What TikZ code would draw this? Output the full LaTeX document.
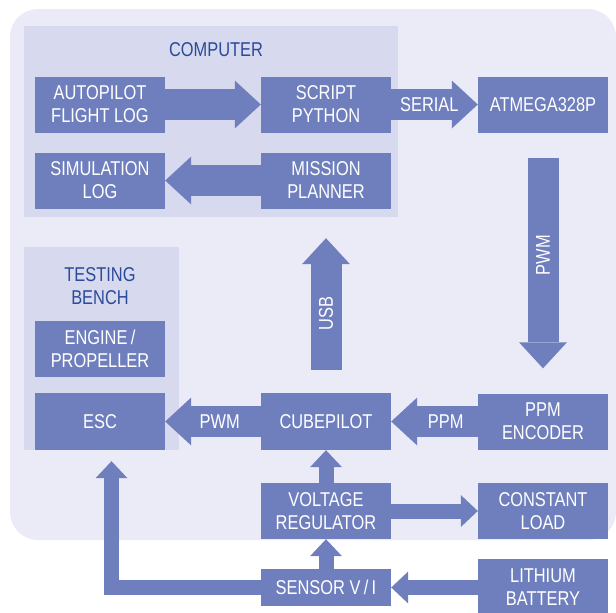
\documentclass[tikz,border=0pt]{standalone}
\usepackage{fontspec}
\setmainfont{Liberation Sans}[FakeStretch=0.82]
\usetikzlibrary{arrows.meta,calc}

\definecolor{bgcol}{HTML}{EBEBF7}
\definecolor{panelcol}{HTML}{D7D9EE}
\definecolor{boxcol}{HTML}{6F7FBE}
\definecolor{titlecol}{HTML}{2A4A9A}

\begin{document}
\begin{tikzpicture}[x=1pt, y=-1pt, font=\fontsize{20}{23}\selectfont,
          block/.style={fill=boxcol, text=white, align=center, minimum
            width=130pt, minimum height=56pt, inner sep=0},
          panel/.style={fill=panelcol, inner sep=0},
          title/.style={text=titlecol, align=center},
          fatarrow/.style={draw=boxcol, line width=31pt,
            -{Triangle[width=48pt,length=26pt,line width=0pt]}},
          slimarrow/.style={draw=boxcol, line width=15pt, line join=miter,
            -{Triangle[width=32pt,length=17pt,line width=0pt]}},
          lbl/.style={text=white, inner sep=0}]
  \useasboundingbox (0,0) rectangle (616,613);
  \fill[bgcol, rounded corners=28pt] (10,9) rectangle (616,540);
  \node[panel, minimum width=374pt, minimum height=191pt] (computer) at (211,121.5) {};
  \node[panel, minimum width=155pt, minimum height=203pt] (bench) at (101.5,348.5) {};
  \node[title] (comptitle) at (216,50) {COMPUTER};
  \node[title] (benchtitle) at (100,286) {TESTING\\BENCH};

  \node[block] (autopilot) at (100,104.5) {AUTOPILOT\\FLIGHT LOG};
  \node[block] (script) at (326,104.5) {SCRIPT\\PYTHON};
  \node[block] (simlog) at (100,180.5) {SIMULATION\\LOG};
  \node[block] (mission) at (326,180.5) {MISSION\\PLANNER};
  \node[block] (atmega) at (543,104.5) {ATMEGA328P};
  \node[block] (engine) at (100,349) {ENGINE\,/\\PROPELLER};
  \node[block, minimum height=57pt] (esc) at (100,421.5) {ESC};
  \node[block, minimum height=57pt] (cube) at (326,421.5) {CUBEPILOT};
  \node[block] (encoder) at (543,421.5) {PPM\\ENCODER};
  \node[block] (regulator) at (326,511) {VOLTAGE\\REGULATOR};
  \node[block] (load) at (543,511) {CONSTANT\\LOAD};
  \node[block, minimum height=37pt] (sensor) at (326,587.5) {SENSOR V\,/\,I};
  \node[block, minimum height=57pt] (battery) at (543,587.5) {LITHIUM\\BATTERY};

  \draw[fatarrow] (autopilot) -- (script);
  \draw[fatarrow] (script) -- node[lbl, pos=0.44] {SERIAL} (atmega);
  \draw[fatarrow] (mission) -- (simlog);
  \draw[fatarrow, shorten <=25pt, shorten >=25pt] (atmega) -- node[lbl, rotate=90, pos=0.47] {PWM} (encoder);
  \draw[fatarrow, shorten <=23pt, shorten >=21pt] (cube.north) -- node[lbl, rotate=90, pos=0.45] {USB} (cube |- computer.south);
  \draw[fatarrow] (cube) -- node[lbl, pos=0.43] {PWM} (esc);
  \draw[fatarrow] (encoder) -- node[lbl, pos=0.37] {PPM} (cube);
  \draw[slimarrow] (regulator) -- (cube);
  \draw[slimarrow] (regulator) -- (load);
  \draw[slimarrow] (sensor) -- (regulator);
  \draw[slimarrow] (battery) -- (sensor);
  \draw[slimarrow, shorten >=11pt] (sensor.west) -| ([xshift=11.5pt]esc.south);
\end{tikzpicture}
\end{document}
